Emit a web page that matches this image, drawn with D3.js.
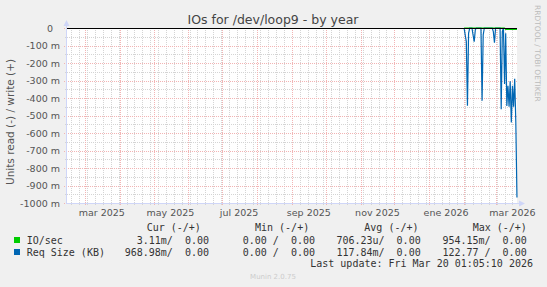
<!DOCTYPE html>
<html>
<head>
<meta charset="utf-8">
<script src="https://cdn.jsdelivr.net/npm/d3@7"></script>
<style>
  body { margin: 0; background: #f0f0f0; }
  svg { display: block; }
  text { font-family: "DejaVu Sans", sans-serif; }
  .mono { font-family: "DejaVu Sans Mono", monospace; font-size: 10px; fill: #333; white-space: pre; }
</style>
</head>
<body>
<div id="graph-pane"></div>
<script>
// data (values in milli-units, read side is negative)
var days = ["2026-02-01","2026-02-02","2026-02-03","2026-02-04","2026-02-05","2026-02-06",
  "2026-02-07","2026-02-08","2026-02-09","2026-02-10","2026-02-11","2026-02-12","2026-02-13",
  "2026-02-14","2026-02-15","2026-02-16","2026-02-17","2026-02-18","2026-02-19","2026-02-20",
  "2026-02-21","2026-02-22","2026-02-23","2026-02-24","2026-02-25","2026-02-26","2026-02-27",
  "2026-02-28","2026-03-01","2026-03-02","2026-03-03","2026-03-04","2026-03-05","2026-03-06",
  "2026-03-07","2026-03-08","2026-03-09","2026-03-10","2026-03-11","2026-03-12","2026-03-13",
  "2026-03-14","2026-03-15","2026-03-16","2026-03-17","2026-03-18","2026-03-19","2026-03-20"];
var reqSize = [0,-40,-78,-444,-30,0,
  0,0,-40,-78,-10,0,0,
  0,0,0,-415,-40,0,0,
  0,0,0,0,0,0,-20,
  -84,0,0,0,0,0,-464,
  -20,0,-320,-30,-445,-330,-450,
  -305,-540,-330,-450,-290,-540,-969];
var ioSec = [0,0,0,0,0,0,
  0,0,0,0,0,0,0,
  0,0,0,0,0,0,0,
  0,0,0,0,0,0,0,
  0,0,0,0,0,0,0,
  0,0,0,-8,-8,-8,-8,
  -8,-8,-8,-8,-8,-8,-8];

var yTicks = [0,-100,-200,-300,-400,-500,-600,-700,-800,-900,-1000];
var monthNames = ["ene","feb","mar","abr","may","jun","jul","ago","sep","oct","nov","dic"];

var seriesNames = ["IO/sec","Req Size (KB)"];
var curVals = ["3.11m/  0.00","968.98m/  0.00"];
var minVals = ["0.00 /  0.00","0.00 /  0.00"];
var avgVals = ["706.23u/  0.00","117.84m/  0.00"];
var maxVals = ["954.15m/  0.00","122.77 /  0.00"];
var headers = ["Cur (-/+)","Min (-/+)","Avg (-/+)","Max (-/+)"];

var endTime = new Date(Date.UTC(2026,2,20,1,5,10));
var startTime = new Date(endTime.getTime() - 400*864e5);

var colors = { io: "#00cc00", req: "#0066b3", axis: "#cfd6f8",
  minor: "#d4d4d4", major: "#f2b4b4", font: "#555" };

var width = 547, height = 287;
var plot = {left: 67, right: 517, top: 28, bottom: 203};

var svg = d3.select("#graph-pane").append("svg")
  .attr("width", width).attr("height", height).attr("id", "graph");

svg.append("rect").attr("width", width).attr("height", height).attr("fill", "#f0f0f0");
svg.append("rect")
  .attr("x", plot.left).attr("y", plot.top)
  .attr("width", plot.right - plot.left).attr("height", plot.bottom - plot.top)
  .attr("fill", "#fff");

var x = d3.scaleUtc().domain([startTime, endTime]).range([plot.left, plot.right]);
var y = d3.scaleLinear().domain([-1000, 0]).range([plot.bottom, plot.top]);

var grid = svg.append("g").attr("shape-rendering", "crispEdges");

// minor grid: weeks and every 50m
d3.utcMonday.range(startTime, endTime).forEach(function(d){
  var px = Math.round(x(d)) + 0.5;
  grid.append("line").attr("x1", px).attr("x2", px).attr("y1", plot.top).attr("y2", plot.bottom + 2)
    .attr("stroke", colors.minor).attr("stroke-dasharray", "1,1");
});
d3.range(-950, 0, 100).forEach(function(v){
  var py = Math.round(y(v)) + 0.5;
  grid.append("line").attr("x1", plot.left - 2).attr("x2", plot.right).attr("y1", py).attr("y2", py)
    .attr("stroke", colors.minor).attr("stroke-dasharray", "1,1");
});
// major grid: months and every 100m
d3.utcMonth.range(startTime, endTime).forEach(function(d){
  var px = Math.round(x(d)) + 0.5;
  grid.append("line").attr("x1", px).attr("x2", px).attr("y1", plot.top).attr("y2", plot.bottom + 3)
    .attr("stroke", colors.major).attr("stroke-dasharray", "1,1");
});
yTicks.forEach(function(v){
  var py = Math.round(y(v)) + 0.5;
  grid.append("line").attr("x1", plot.left - 3).attr("x2", plot.right).attr("y1", py).attr("y2", py)
    .attr("stroke", colors.major).attr("stroke-dasharray", "1,1");
});

// y labels
svg.append("g").selectAll("text").data(yTicks).enter().append("text")
  .attr("x", d => d == 0 ? 53 : 60)
  .attr("y", d => y(d) + 3.5)
  .attr("text-anchor", "end")
  .attr("font-size", "9.5px")
  .attr("fill", colors.font)
  .text(d => d == 0 ? "0" : d + " m");

// x labels every 2 months, centred mid-month like rrdtool
d3.utcMonth.every(2).range(d3.utcMonth.floor(startTime), endTime).forEach(function(d){
  var mid = new Date(d.getTime() + 15*864e5);
  if (mid < startTime || mid > endTime) return;
  svg.append("text")
    .attr("x", x(mid)).attr("y", 216)
    .attr("text-anchor", "middle")
    .attr("font-size", "9.5px")
    .attr("fill", colors.font)
    .text(monthNames[d.getUTCMonth()] + " " + d.getUTCFullYear());
});

// axes with arrows
svg.append("line").attr("x1", plot.left - 0.5).attr("x2", plot.left - 0.5)
  .attr("y1", plot.bottom + 0.5).attr("y2", plot.top - 4).attr("stroke", colors.axis);
svg.append("path").attr("d", "M63.5,26 L66.5,20 L69.5,26 Z").attr("fill", colors.axis);
svg.append("line").attr("x1", plot.left - 1).attr("x2", plot.right + 3)
  .attr("y1", plot.bottom + 0.5).attr("y2", plot.bottom + 0.5).attr("stroke", colors.axis);
svg.append("path").attr("d", "M519,200.5 L525,203.5 L519,206.5 Z").attr("fill", colors.axis);

// data lines
var line = d3.line()
  .x((d, i) => x(new Date(days[i] + "T00:00:00Z")))
  .y(d => y(d));

svg.append("path").datum(reqSize)
  .attr("d", line).attr("fill", "none")
  .attr("stroke", colors.req).attr("stroke-width", 1.2);
svg.append("path").datum(ioSec)
  .attr("d", line).attr("fill", "none")
  .attr("stroke", colors.io).attr("stroke-width", 1.2);

// zero line
svg.append("line").attr("x1", plot.left).attr("x2", plot.right)
  .attr("y1", y(0) + 0.5).attr("y2", y(0) + 0.5)
  .attr("stroke", "#000").attr("shape-rendering", "crispEdges");

// title and side labels
svg.append("text").attr("x", 273).attr("y", 24).attr("text-anchor", "middle")
  .attr("font-size", "12.5px").attr("fill", "#444").text("IOs for /dev/loop9 - by year");
svg.append("text").attr("transform", "translate(14,122) rotate(-90)")
  .attr("text-anchor", "middle").attr("font-size", "10.5px").attr("fill", colors.font)
  .text("Units read (-) / write (+)");
svg.append("text").attr("transform", "translate(535,5) rotate(90)")
  .attr("text-anchor", "start").attr("font-size", "7.5px").attr("fill", "#bbb")
  .text("RRDTOOL / TOBI OETIKER");

// legend
var headX = [146.7, 255, 364.3, 472.7];
headers.forEach(function(h, i){
  svg.append("text").attr("class", "mono").attr("x", headX[i]).attr("y", 230.5).text(h);
});
var rowY = [243.5, 255.5];
var colEnd = [209, 315, 420.7, 526.7];
var cols = [curVals, minVals, avgVals, maxVals];
seriesNames.forEach(function(name, r){
  svg.append("rect").attr("x", 14).attr("y", rowY[r] - 6.5).attr("width", 6).attr("height", 6)
    .attr("fill", r == 0 ? colors.io : colors.req);
  svg.append("text").attr("class", "mono").attr("x", 26.7).attr("y", rowY[r]).text(name);
  cols.forEach(function(c, i){
    svg.append("text").attr("class", "mono").attr("x", colEnd[i]).attr("y", rowY[r])
      .attr("text-anchor", "end").text(c[r]);
  });
});
svg.append("text").attr("class", "mono").attr("x", 533).attr("y", 267)
  .attr("text-anchor", "end").text("Last update: Fri Mar 20 01:05:10 2026");
svg.append("text").attr("x", 273).attr("y", 279).attr("text-anchor", "middle")
  .attr("font-size", "7px").attr("fill", "#ccc").text("Munin 2.0.75");
</script>
</body>
</html>
